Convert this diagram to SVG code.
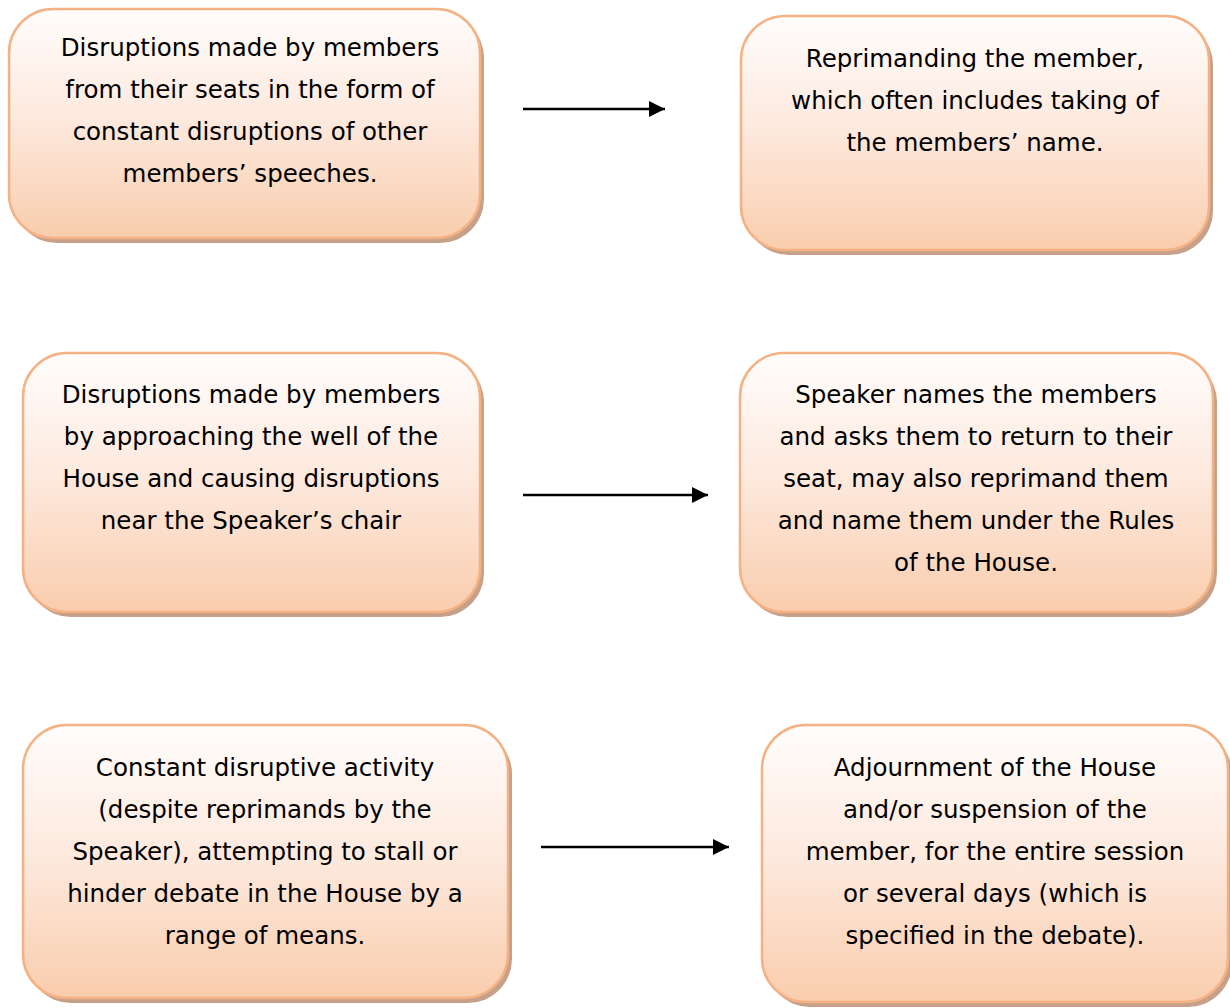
<svg xmlns="http://www.w3.org/2000/svg" width="1230" height="1008" viewBox="0 0 1230 1008">
<defs>
<linearGradient id="fill" x1="0" y1="0" x2="0" y2="1">
<stop offset="0" stop-color="#fffdfc"/>
<stop offset="0.5" stop-color="#fde8dc"/>
<stop offset="1" stop-color="#f9cdad"/>
</linearGradient>
<marker id="arr" viewBox="0 0 16 16" refX="16" refY="8" markerWidth="16" markerHeight="16" markerUnits="userSpaceOnUse" orient="auto">
<path d="M0,0 L16,8 L0,16 Z" fill="#000"/>
</marker>
</defs>
<style>
.shadow{fill:#c6a089;}
.box{fill:url(#fill);stroke:#f4b183;stroke-width:2.5;}
.t{font-family:"DejaVu Sans","Liberation Sans",sans-serif;font-size:24.5px;fill:#000;text-anchor:middle;}
.c{stroke:#000;stroke-width:2.5;fill:none;marker-end:url(#arr);}
</style>
<rect width="1230" height="1008" fill="#fff"/>
<g id="node1">
<rect class="shadow" x="13" y="14" width="471" height="229" rx="44"/>
<rect class="box" x="9" y="9" width="471" height="229" rx="44"/>
<text class="t" x="250" y="56">Disruptions made by members</text>
<text class="t" x="250" y="98">from their seats in the form of</text>
<text class="t" x="250" y="140">constant disruptions of other</text>
<text class="t" x="250" y="182">members’ speeches.</text>
</g>
<g id="node2">
<rect class="shadow" x="745" y="21" width="468" height="234" rx="44"/>
<rect class="box" x="741" y="16" width="468" height="234" rx="44"/>
<text class="t" x="975" y="67">Reprimanding the member,</text>
<text class="t" x="975" y="109">which often includes taking of</text>
<text class="t" x="975" y="151">the members’ name.</text>
</g>
<g id="node3">
<rect class="shadow" x="27" y="358" width="457" height="259" rx="44"/>
<rect class="box" x="23" y="353" width="457" height="259" rx="44"/>
<text class="t" x="251" y="403">Disruptions made by members</text>
<text class="t" x="251" y="445">by approaching the well of the</text>
<text class="t" x="251" y="487">House and causing disruptions</text>
<text class="t" x="251" y="529">near the Speaker’s chair</text>
</g>
<g id="node4">
<rect class="shadow" x="744" y="358" width="473" height="259" rx="44"/>
<rect class="box" x="740" y="353" width="473" height="259" rx="44"/>
<text class="t" x="976" y="403">Speaker names the members</text>
<text class="t" x="976" y="445">and asks them to return to their</text>
<text class="t" x="976" y="487">seat, may also reprimand them</text>
<text class="t" x="976" y="529">and name them under the Rules</text>
<text class="t" x="976" y="571">of the House.</text>
</g>
<g id="node5">
<rect class="shadow" x="27" y="730" width="485" height="273" rx="44"/>
<rect class="box" x="23" y="725" width="485" height="273" rx="44"/>
<text class="t" x="265" y="776">Constant disruptive activity</text>
<text class="t" x="265" y="818">(despite reprimands by the</text>
<text class="t" x="265" y="860">Speaker), attempting to stall or</text>
<text class="t" x="265" y="902">hinder debate in the House by a</text>
<text class="t" x="265" y="944">range of means.</text>
</g>
<g id="node6">
<rect class="shadow" x="766" y="730" width="466" height="277" rx="44"/>
<rect class="box" x="762" y="725" width="466" height="277" rx="44"/>
<text class="t" x="995" y="776">Adjournment of the House</text>
<text class="t" x="995" y="818">and/or suspension of the</text>
<text class="t" x="995" y="860">member, for the entire session</text>
<text class="t" x="995" y="902">or several days (which is</text>
<text class="t" x="995" y="944">specified in the debate).</text>
</g>
<g id="connectors">
<line class="c" x1="523" y1="109" x2="665" y2="109"/>
<line class="c" x1="523" y1="495" x2="708" y2="495"/>
<line class="c" x1="541" y1="847" x2="729" y2="847"/>
</g>
</svg>
